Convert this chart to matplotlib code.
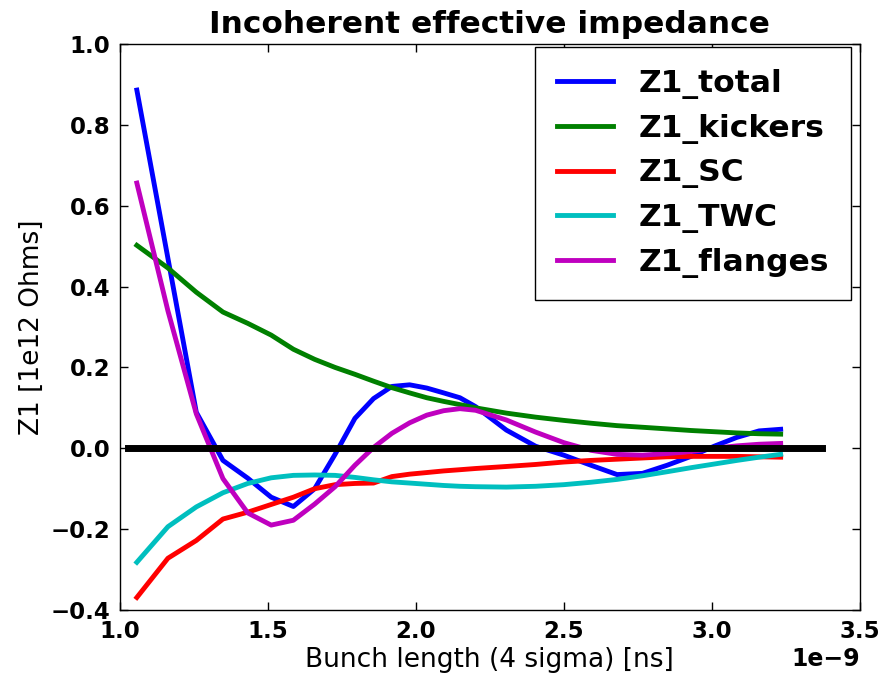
import matplotlib
matplotlib.use("Agg")
import matplotlib.pyplot as plt

# Bunch length (4 sigma) in ns
bunch_length_ns = [1.057, 1.162, 1.258, 1.348, 1.432, 1.511, 1.586, 1.658, 1.727, 1.794,
                   1.857, 1.919, 1.979, 2.037, 2.094, 2.149, 2.202, 2.306, 2.405, 2.500,
                   2.592, 2.680, 2.766, 2.849, 2.930, 3.008, 3.085, 3.160, 3.233]

z1_total = [0.886, 0.470, 0.089, -0.030, -0.074, -0.121, -0.144, -0.100, -0.015, 0.074,
            0.123, 0.153, 0.157, 0.149, 0.137, 0.125, 0.103, 0.045, 0.005, -0.017,
            -0.042, -0.065, -0.062, -0.042, -0.020, 0.005, 0.027, 0.043, 0.047]

z1_kickers = [0.502, 0.446, 0.386, 0.337, 0.309, 0.280, 0.245, 0.220, 0.200, 0.183,
              0.166, 0.150, 0.137, 0.125, 0.116, 0.108, 0.100, 0.087, 0.077, 0.069,
              0.062, 0.056, 0.052, 0.048, 0.044, 0.041, 0.038, 0.036, 0.035]

z1_sc = [-0.369, -0.272, -0.228, -0.175, -0.158, -0.139, -0.121, -0.100, -0.090, -0.087,
         -0.086, -0.070, -0.064, -0.060, -0.056, -0.053, -0.050, -0.045, -0.040, -0.034,
         -0.030, -0.027, -0.024, -0.021, -0.020, -0.020, -0.020, -0.021, -0.022]

z1_twc = [-0.282, -0.194, -0.145, -0.110, -0.087, -0.073, -0.067, -0.066, -0.067, -0.072,
          -0.078, -0.083, -0.086, -0.089, -0.092, -0.094, -0.095, -0.096, -0.094, -0.090,
          -0.084, -0.077, -0.068, -0.058, -0.048, -0.039, -0.030, -0.022, -0.015]

z1_flanges = [0.656, 0.340, 0.085, -0.075, -0.160, -0.190, -0.178, -0.138, -0.095, -0.042,
              0.002, 0.037, 0.063, 0.082, 0.093, 0.098, 0.094, 0.070, 0.040, 0.014,
              -0.005, -0.015, -0.017, -0.013, -0.008, 0.000, 0.006, 0.010, 0.012]

series_labels = ["Z1_total", "Z1_kickers", "Z1_SC", "Z1_TWC", "Z1_flanges"]
series_values = [z1_total, z1_kickers, z1_sc, z1_twc, z1_flanges]
series_colors = ["#0000ff", "#008000", "#ff0000", "#00bfbf", "#bf00bf"]

zero_line_x_ns = [1.027, 3.372]
zero_line_y = [0.0, 0.0]

x_ticks_ns = [1.0, 1.5, 2.0, 2.5, 3.0, 3.5]
y_ticks = [-0.4, -0.2, 0.0, 0.2, 0.4, 0.6, 0.8, 1.0]

plt.rcParams['font.family'] = ['DejaVu Sans']

fig = plt.figure(figsize=(8.79, 6.75), dpi=100)
ax = fig.add_axes([0.1365, 0.0963, 0.8415, 0.8385])

x_s = [v * 1e-9 for v in bunch_length_ns]
for vals, lab, col in zip(series_values, series_labels, series_colors):
    ax.plot(x_s, vals, color=col, lw=3.5, label=lab)

ax.plot([v * 1e-9 for v in zero_line_x_ns], zero_line_y, color='black', lw=5)

ax.set_xlim(1.0e-9, 3.5e-9)
ax.set_ylim(-0.4, 1.0)
ax.set_xticks([v * 1e-9 for v in x_ticks_ns])
ax.set_yticks(y_ticks)

ax.tick_params(direction='in', top=True, right=True, length=6, width=1,
               labelsize=16.5, pad=7)
for lbl in ax.get_xticklabels() + ax.get_yticklabels():
    lbl.set_fontweight('bold')
ax.xaxis.get_offset_text().set_fontsize(17)
ax.xaxis.get_offset_text().set_fontweight('bold')

for sp in ax.spines.values():
    sp.set_linewidth(1.0)

ax.set_xlabel("Bunch length (4 sigma) [ns]", fontsize=19, labelpad=3)
ax.set_ylabel("Z1 [1e12 Ohms]", fontsize=19, labelpad=4)
ax.set_title("Incoherent effective impedance", fontsize=22.5, fontweight='bold', pad=8)

leg = ax.legend(loc='upper right', bbox_to_anchor=(0.9878, 0.9947),
                prop={'size': 22.6, 'weight': 'bold'},
                fancybox=False, edgecolor='black', framealpha=1.0,
                handlelength=1.8, labelspacing=0.47, borderpad=0.7,
                handletextpad=0.8, borderaxespad=0.0)
leg.get_frame().set_linewidth(1.0)

fig.savefig("out.png", dpi=100, facecolor='white')
